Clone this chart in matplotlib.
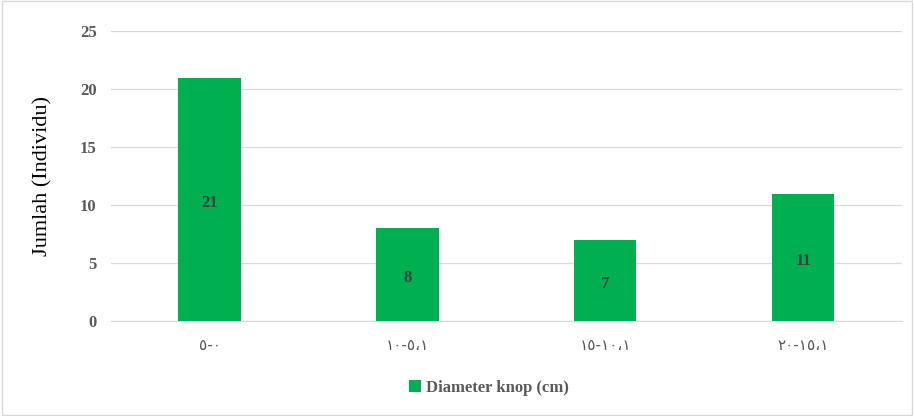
import matplotlib
matplotlib.use('Agg')
import matplotlib.pyplot as plt
from matplotlib.patches import Rectangle

# data
categories = ['٥-٠', '١٠-٥،١', '١٥-١٠،١', '٢٠-١٥،١']
counts = [21, 8, 7, 11]
series_name = 'Diameter knop (cm)'
y_ticks = [0, 5, 10, 15, 20, 25]

green = '#00B050'
serif = 'Liberation Serif'

fig = plt.figure(figsize=(9.14, 4.16), dpi=100)
ax = fig.add_axes([0.121, 0.228, 0.866, 0.697])

x = range(len(categories))
ax.bar(x, counts, width=0.315, color=green, label=series_name, zorder=3)

# value labels sit a touch below the bar's middle, like Excel
for xi, v in zip(x, counts):
    ax.text(xi, v / 2 - 0.3, str(v), ha='center', va='center', fontsize=12,
            fontweight='bold', color='#404040', family=serif, zorder=4)

ax.set_xlim(-0.5, len(categories) - 0.5)
ax.set_ylim(0, 25)
ax.set_yticks(y_ticks)
ax.set_yticklabels([str(t) for t in y_ticks], fontsize=12, fontweight='bold',
                   color='#595959', family=serif)
ax.set_xticks(list(x))
ax.set_xticklabels(categories, fontsize=11, color='#595959', family='DejaVu Sans')
ax.tick_params(axis='both', length=0, pad=10)
ax.tick_params(axis='x', pad=12)

ax.grid(axis='y', color='#D9D9D9', linewidth=0.9, zorder=0)
for s in ['top', 'right', 'left']:
    ax.spines[s].set_visible(False)
ax.spines['bottom'].set_color('#D9D9D9')

ax.set_ylabel('Jumlah (Individu)', fontsize=16, family=serif, color='black', labelpad=20)

leg = fig.legend(loc='center', bbox_to_anchor=(0.535, 0.068), frameon=False,
                 prop={'family': serif, 'weight': 'bold', 'size': 12},
                 handlelength=0.7, handleheight=0.7, handletextpad=0.3)
for t in leg.get_texts():
    t.set_color('#595959')

fig.patches.append(Rectangle((0.002, 0.003), 0.996, 0.994, transform=fig.transFigure,
                             fill=False, edgecolor='#D9D9D9', linewidth=1))

fig.savefig('out.png', dpi=100)
